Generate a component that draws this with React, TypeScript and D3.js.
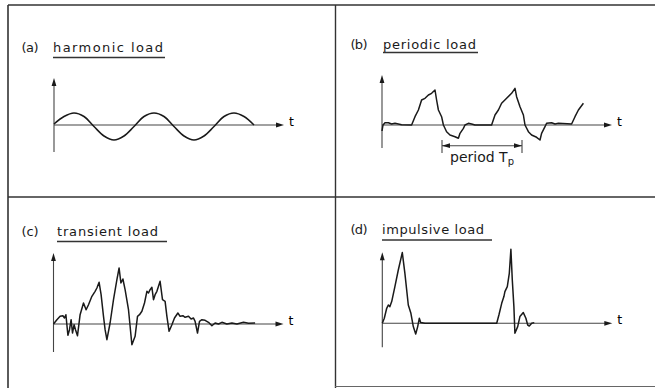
import * as d3 from "d3";

// [t, load] pairs (t: 20px per unit, load: 10px per unit)
const harmonicLoad: [number, number][] = [
  [0, 0.1], [0.5, 0.85], [1, 1.2], [1.5, 0.85], [2, -0.15], [2.5, -1.1], [3, -1.5], [3.5, -1.1],
  [4, -0.15], [4.5, 0.85], [5, 1.2], [5.5, 0.85], [6, -0.15], [6.5, -1.1], [7, -1.5], [7.5, -1.1],
  [8, -0.15], [8.5, 0.85], [9, 1.2], [9.5, 0.85], [10, 0],
];

const periodicLoad: [number, number][] = [
  [0, -0.6], [0.05, 0], [0.15, 0.23], [0.32, 0.23], [0.48, 0.1], [0.65, 0.17], [0.98, 0.03], [1.48, 0],
  [1.65, 0.83], [1.82, 1.5], [1.98, 2.5], [2.15, 2.67], [2.32, 3.0], [2.48, 3.17], [2.65, 3.5],
  [2.73, 2.5], [2.82, 1.5], [2.98, 0.83], [3.07, 0], [3.23, -0.67], [3.4, -1.0], [3.65, -1.17],
  [3.82, -1.33], [3.9, -0.83], [4.07, -0.33], [4.15, 0], [4.32, 0.17], [4.48, 0.1], [4.65, 0],
  [5.48, 0], [5.65, 1.0], [5.82, 1.5], [5.98, 2.17], [6.23, 2.67], [6.48, 3.17], [6.65, 3.67],
  [6.73, 2.83], [6.9, 1.83], [7.07, 1.0], [7.15, 0], [7.32, -0.67], [7.48, -1.0], [7.73, -1.23],
  [7.9, -1.5], [7.98, -0.83], [8.15, -0.17], [8.23, 0.17], [8.48, 0.23], [8.65, 0.1], [8.82, 0.17],
  [9.48, 0.1], [9.65, 0.83], [9.82, 1.5], [10.07, 2.17],
];

const transientLoad: [number, number][] = [
  [0, 0], [0.17, 0.43], [0.33, 0.77], [0.47, 0.83], [0.55, 0.6], [0.62, 0.93], [0.72, -1.13],
  [0.8, -0.57], [0.88, 0.43], [0.95, -0.9], [1.03, -0.07], [1.1, -0.57], [1.2, -1.17], [1.33, 0.93],
  [1.5, 2.1], [1.63, 1.43], [1.75, 1.93], [1.92, 2.77], [2.08, 3.27], [2.17, 3.6], [2.28, 4.17],
  [2.38, 2.93], [2.5, 0.77], [2.58, -0.57], [2.67, -1.57], [2.83, 0.1], [3.0, 2.43], [3.17, 4.43],
  [3.28, 5.6], [3.37, 4.1], [3.47, 4.5], [3.58, 3.43], [3.75, 1.43], [3.92, -2.07], [4.08, -1.23],
  [4.2, 0.77], [4.3, 0.93], [4.42, 1.27], [4.55, 2.1], [4.67, 3.27], [4.75, 3.1], [4.83, 3.43],
  [4.92, 3.67], [5.0, 2.43], [5.08, 2.93], [5.17, 3.27], [5.25, 3.77], [5.33, 4.27], [5.45, 2.43],
  [5.58, 2.27], [5.67, 0.77], [5.78, -0.73], [5.92, -0.07], [6.05, 0.6], [6.22, 1.1], [6.33, 0.77],
  [6.47, 0.83], [6.58, 0.67], [6.75, 0.77], [6.88, 0.5], [7.0, 0.6], [7.08, 0.27], [7.2, -0.9],
  [7.3, 0.27], [7.42, 0.43], [7.58, 0.37], [7.75, 0.17], [7.92, -0.17], [8.08, 0.1], [8.25, 0],
  [8.42, 0.17], [8.67, 0], [8.92, 0.1], [9.17, 0], [9.5, 0.17], [9.75, 0.07], [10.08, 0.1],
];

const impulsiveLoad: [number, number][] = [
  [0, 0], [0.1, 0.5], [0.22, 1.5], [0.3, 1.83], [0.38, 1.67], [0.47, 2.17], [0.63, 3.67],
  [0.8, 5.33], [1.0, 7.07], [1.13, 5.0], [1.3, 1.83], [1.43, 1.0], [1.55, -0.33], [1.67, -1.07],
  [1.77, -0.33], [1.85, 0.5], [1.92, 0.07], [2.13, 0], [5.72, 0], [5.83, 0.83], [5.97, 2.0],
  [6.08, 2.67], [6.13, 3.17], [6.25, 3.67], [6.35, 5.0], [6.43, 7.4], [6.5, 4.33], [6.58, 1.67],
  [6.63, -1.0], [6.77, -0.33], [6.88, 0.67], [7.05, 1.07], [7.18, 0.5], [7.27, -0.17],
  [7.35, -0.27], [7.47, 0], [7.6, 0.07],
];

const panelTags = ["(a)", "(b)", "(c)", "(d)"];
const panelTitles = ["harmonic load", "periodic load", "transient load", "impulsive load"];
const periodLabel = "period T";
const periodSub = "p";
const periodSpan = [3, 7];

const tx = d3.scaleLinear().domain([0, 10]).range([0, 200]);
const ly = d3.scaleLinear().domain([-1, 1]).range([10, -10]);

const panels = [
  { data: harmonicLoad, smooth: true, ox: 54, oy: 125, top: 4.7, bottom: -2.7, tagX: 21.5, titleX: 53, titleW: 110, base: 51.5, ulY: 57.5, ulW: 112 },
  { data: periodicLoad, smooth: false, ox: 382, oy: 125, top: 5, bottom: -2.3, tagX: 350.5, titleX: 383, titleW: 93, base: 49, ulY: 52.5, ulW: 95 },
  { data: transientLoad, smooth: false, ox: 53.5, oy: 324, top: 7.1, bottom: -2.8, tagX: 21.5, titleX: 57, titleW: 101, base: 236, ulY: 241.5, ulW: 110 },
  { data: impulsiveLoad, smooth: false, ox: 382.3, oy: 323.3, top: 7.1, bottom: -2.4, tagX: 350.5, titleX: 382, titleW: 102, base: 234, ulY: 240, ulW: 110 },
];

const ink = "#1a1a1a";
const font = "'DejaVu Sans', sans-serif";

const Panel = ({ p, i }: { p: (typeof panels)[number]; i: number }) => {
  const line = d3.line<[number, number]>()
    .x(d => tx(d[0]))
    .y(d => ly(d[1]))
    .curve(p.smooth ? d3.curveCatmullRom : d3.curveLinear);
  const xEnd = tx(11.5);
  const yTop = ly(p.top);
  const yBot = ly(p.bottom);
  return (
    <g>
      <text x={p.tagX} y={p.base} fontFamily={font} fontSize={13} fill={ink}
        textLength={17} lengthAdjust="spacing">{panelTags[i]}</text>
      <text x={p.titleX} y={p.base} fontFamily={font} fontSize={13} fill={ink}
        textLength={p.titleW} lengthAdjust="spacing">{panelTitles[i]}</text>
      <line x1={p.titleX} x2={p.titleX + p.ulW} y1={p.ulY} y2={p.ulY} stroke="#333" strokeWidth={1.3} />
      <g transform={`translate(${p.ox},${p.oy})`}>
        <line x1={0} x2={xEnd - 6} y1={0} y2={0} stroke="#444" strokeWidth={1.1} />
        <path d={`M${xEnd},0L${xEnd - 8},-2.4L${xEnd - 8},2.4Z`} fill={ink} />
        <line x1={0} x2={0} y1={yBot} y2={yTop + 6} stroke="#444" strokeWidth={1.1} />
        <path d={`M0,${yTop}L-2.4,${yTop + 8}L2.4,${yTop + 8}Z`} fill={ink} />
        <text x={xEnd + 5} y={1} fontFamily={font} fontSize={12.5} fill="#000">t</text>
        <path d={line(p.data) || ""} fill="none" stroke={ink} strokeWidth={1.5} strokeLinejoin="round" />
        {i === 1 && (
          <g>
            <line x1={tx(periodSpan[0])} x2={tx(periodSpan[1])} y1={ly(-2.07)} y2={ly(-2.07)} stroke="#444" strokeWidth={1.1} />
            <line x1={tx(periodSpan[0])} x2={tx(periodSpan[0])} y1={ly(-1.5)} y2={ly(-2.8)} stroke="#444" strokeWidth={1.1} />
            <line x1={tx(periodSpan[1])} x2={tx(periodSpan[1])} y1={ly(-1.5)} y2={ly(-2.8)} stroke="#444" strokeWidth={1.1} />
            <path d={`M${tx(periodSpan[0])},${ly(-2.07)}l8,-2.4l0,4.8Z`} fill={ink} />
            <path d={`M${tx(periodSpan[1])},${ly(-2.07)}l-8,-2.4l0,4.8Z`} fill={ink} />
            <text x={tx((periodSpan[0] + periodSpan[1]) / 2)} y={ly(-3.67)} fontFamily={font} fontSize={14}
              fill={ink} textAnchor="middle">
              {periodLabel}
              <tspan fontSize={10} dy={3}>{periodSub}</tspan>
            </text>
          </g>
        )}
      </g>
    </g>
  );
};

const App = () => {
  return (
    <svg width={655} height={388} style={{ position: "absolute", left: 0, top: 0, background: "#fff" }}>
      <rect x={0} y={0} width={655} height={388} fill="#fff" />
      {/* frame */}
      <line x1={8} x2={655} y1={5} y2={5} stroke="#333" strokeWidth={1.6} />
      <line x1={8} x2={8} y1={5} y2={388} stroke="#333" strokeWidth={1.6} />
      <line x1={335.5} x2={335.5} y1={5} y2={388} stroke="#333" strokeWidth={1.4} />
      <line x1={8} x2={655} y1={197} y2={197} stroke="#333" strokeWidth={1.4} />
      <line x1={335} x2={655} y1={386.5} y2={386.5} stroke="#666" strokeWidth={1} />
      {panels.map((p, i) => <Panel key={i} p={p} i={i} />)}
    </svg>
  );
};

export default App;
